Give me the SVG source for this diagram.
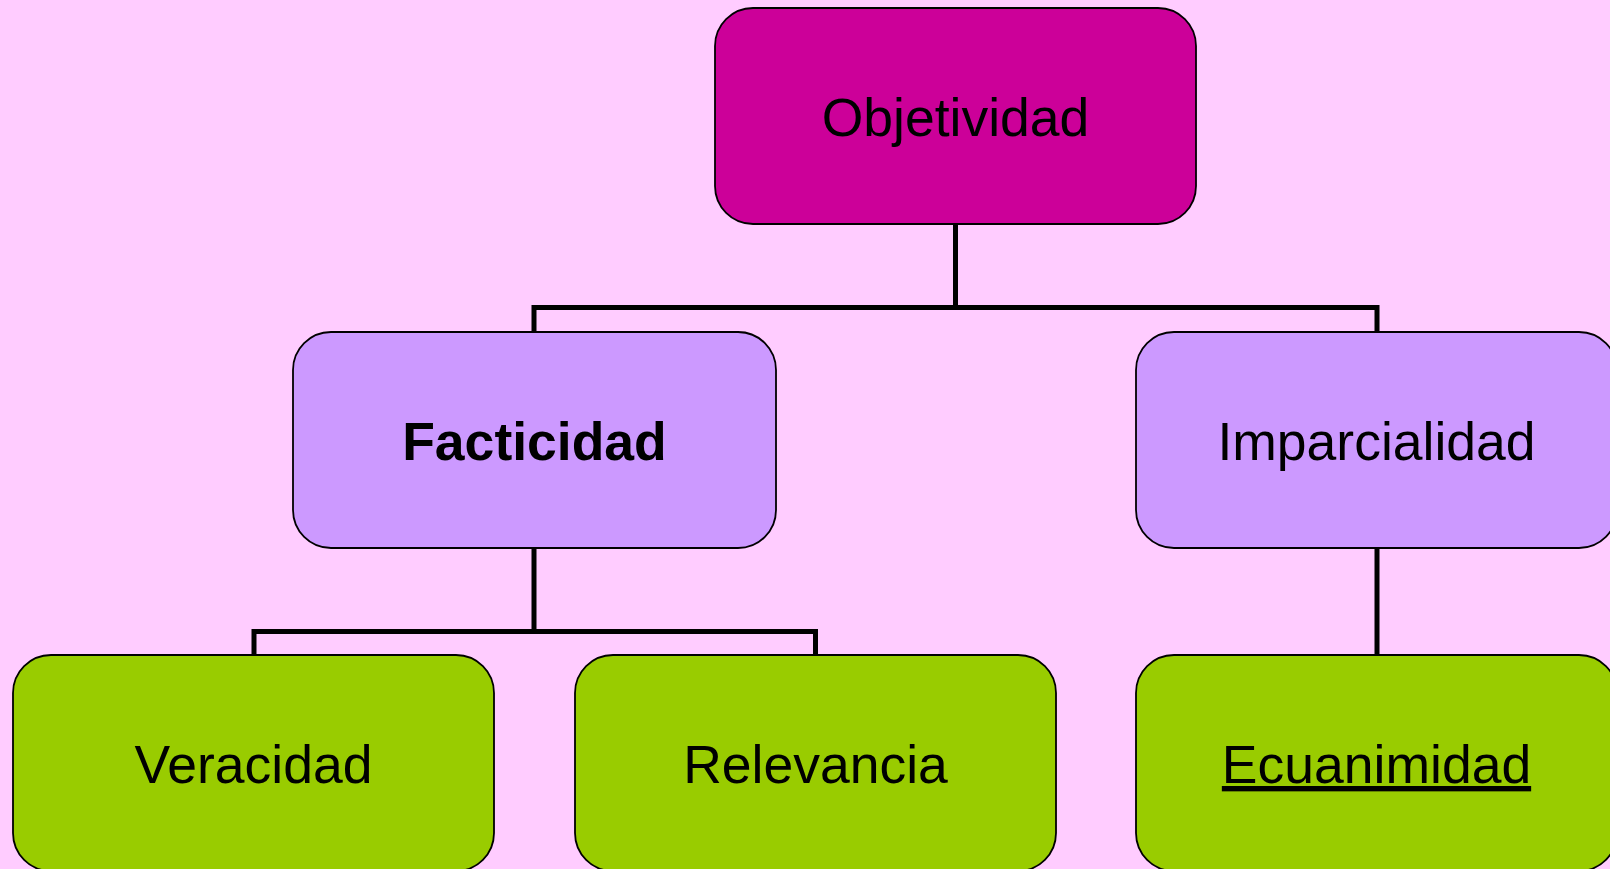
<svg xmlns="http://www.w3.org/2000/svg" width="1610" height="869" viewBox="0 0 1610 869">
<style>
.box{stroke:#000;stroke-width:1.8}
.top{fill:#CC0099}
.mid{fill:#CC99FF}
.leaf{fill:#99CC00}
.lbl{font-family:"Liberation Sans",Arial,sans-serif;font-size:53.5px;fill:#000;text-anchor:middle}
.conn{fill:none;stroke:#000;stroke-width:5}
</style>
<rect width="1610" height="869" fill="#FFCCFF"/>
<g id="connectors">
<path class="conn" d="M955.5 224 V307.5 M534 332 V307.5 H1377 V332"/>
<path class="conn" d="M534 548 V631.5 M254 655 V631.5 H815.5 V655"/>
<path class="conn" d="M1377 548 V655"/>
</g>
<g id="objetividad">
<rect class="box top" x="715" y="8" width="481" height="216" rx="38"/>
<text class="lbl" x="955.5" y="136">Objetividad</text>
</g>
<g id="facticidad">
<rect class="box mid" x="293" y="332" width="483" height="216" rx="38"/>
<text class="lbl" x="534.5" y="460" font-weight="bold">Facticidad</text>
</g>
<g id="imparcialidad">
<rect class="box mid" x="1136" y="332" width="481" height="216" rx="38"/>
<text class="lbl" x="1376.5" y="460">Imparcialidad</text>
</g>
<g id="veracidad">
<rect class="box leaf" x="13" y="655" width="481" height="216" rx="38"/>
<text class="lbl" x="253.5" y="783">Veracidad</text>
</g>
<g id="relevancia">
<rect class="box leaf" x="575" y="655" width="481" height="216" rx="38"/>
<text class="lbl" x="815.5" y="783">Relevancia</text>
</g>
<g id="ecuanimidad">
<rect class="box leaf" x="1136" y="655" width="481" height="216" rx="38"/>
<text class="lbl" x="1376.5" y="783" text-decoration="underline">Ecuanimidad</text>
</g>
</svg>
